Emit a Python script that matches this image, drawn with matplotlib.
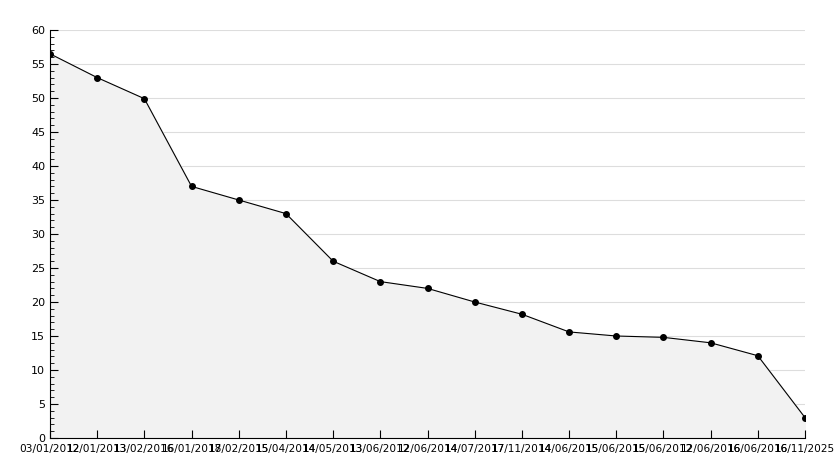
import numpy as np
import matplotlib.pyplot as plt

# dates (x labels) and values
dates = ["03/01/2012", "12/01/2013", "13/02/2016", "16/01/2017", "18/02/2015",
         "15/04/2014", "14/05/2013", "13/06/2012", "12/06/2014", "14/07/2017",
         "17/11/2014", "14/06/2015", "15/06/2015", "15/06/2012", "12/06/2016",
         "16/06/2016", "16/11/2025"]
values = [56.5, 53, 49.9, 37, 35, 33, 26, 23, 22, 20, 18.2, 15.6, 15, 14.8, 14, 12.1, 3]

x = np.arange(len(values))

fig = plt.figure(figsize=(8.34, 4.68), dpi=100)
ax = fig.add_axes([50/834, 30/468, 755/834, 408/468])

ax.set_ylim(0, 60)
ax.set_xlim(0, len(values) - 1)
yticks = np.arange(0, 61, 5)

# grid under the filled area
for yv in yticks[1:]:
    ax.axhline(yv, color="#dddddd", linewidth=0.8, zorder=0.1)

ax.fill_between(x, values, 0, color="#f2f2f2", zorder=0.2)
ax.plot(x, values, color="black", linewidth=0.8, marker="o", markersize=4, zorder=3)

ax.set_yticks(yticks)
ax.set_yticks(np.arange(0, 61, 1), minor=True)

ax.set_xticks(x)
ax.set_xticklabels(dates)
ax.tick_params(axis="x", direction="in", length=6, labelsize=7.6, pad=4)
ax.tick_params(axis="y", which="major", direction="in", length=6, labelsize=8)
ax.tick_params(axis="y", which="minor", direction="in", length=3)

for s in ["top", "right"]:
    ax.spines[s].set_visible(False)

plt.savefig("out.png", dpi=100)
